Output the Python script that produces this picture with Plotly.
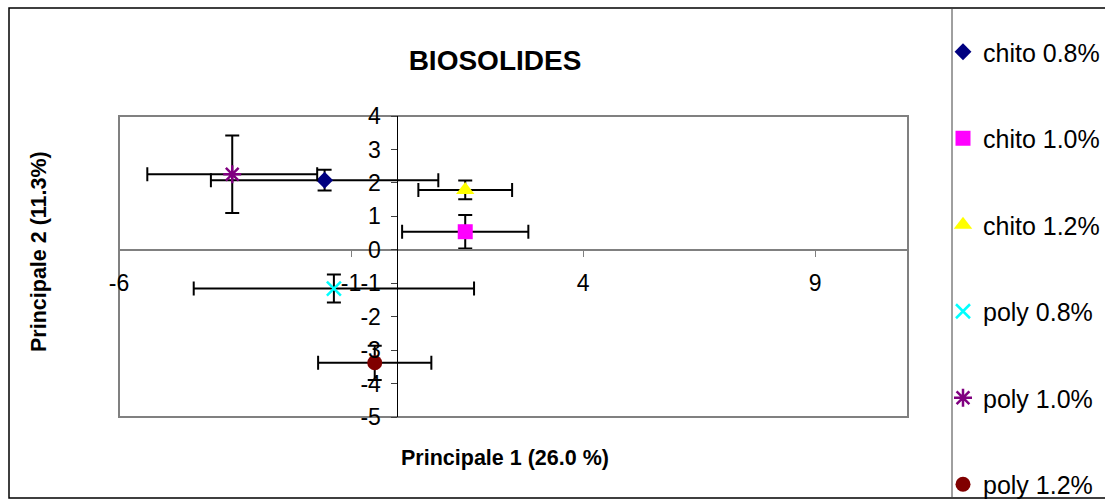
import plotly.graph_objects as go

# ---- data ----
series_names = ["chito 0.8%", "chito 1.0%", "chito 1.2%", "poly 0.8%", "poly 1.0%", "poly 1.2%"]
pc1_values = [-1.57, 1.46, 1.46, -1.37, -3.56, -0.49]
pc2_values = [2.08, 0.54, 1.79, -1.16, 2.26, -3.38]
pc1_errors = [2.45, 1.36, 1.01, 3.02, 1.83, 1.22]
pc2_errors = [0.31, 0.50, 0.28, 0.42, 1.16, 0.51]
x_tick_values = [-6, -1, 4, 9]
y_tick_values = [-5, -4, -3, -2, -1, 0, 1, 2, 3, 4]
x_range = [-6, 11]
y_range = [-5, 4]

# ---- styles ----
colors = ["#000080", "#FF00FF", "#FFFF00", "#00FFFF", "#800080", "#800000"]
symbols = ["diamond", "square", "triangle-up", "x-thin", "asterisk", "circle"]
sizes = [13, 15, 16, 14, 15, 15]
FONT = "Liberation Sans, Arial, sans-serif"

W, H = 1105, 503
L, R, T, B = 119, 197, 116, 86
pw, ph = W - L - R, H - T - B


def px_to_paper_x(px):
    return (px - L) / pw


def py_to_paper_y(py):
    return (H - B - py) / ph


fig = go.Figure()
for i, name in enumerate(series_names):
    line_only = symbols[i] in ("x-thin", "asterisk")
    fig.add_trace(go.Scatter(
        x=[pc1_values[i]], y=[pc2_values[i]], name=name, mode="markers",
        legendgroup=name,
        marker=dict(symbol=symbols[i], size=sizes[i], color=colors[i],
                    line=dict(color=colors[i], width=2.5 if line_only else 0)),
        error_x=dict(type="data", array=[pc1_errors[i]], color="black", thickness=2, width=7),
        error_y=dict(type="data", array=[pc2_errors[i]], color="black", thickness=2, width=7),
    ))

x_pos_of_zero = (0 - x_range[0]) / (x_range[1] - x_range[0])
y_pos_of_zero = (0 - y_range[0]) / (y_range[1] - y_range[0])

fig.update_layout(
    width=W, height=H,
    margin=dict(l=L, r=R, t=T, b=B, autoexpand=False),
    plot_bgcolor="white", paper_bgcolor="white",
    font=dict(family=FONT, color="black"),
    title=dict(text="<b>BIOSOLIDES</b>", font=dict(size=28, family=FONT, color="black"),
               x=px_to_paper_x(495), xref="paper", xanchor="center",
               y=1 - 60 / H, yref="container", yanchor="middle"),
    xaxis=dict(range=x_range, tickvals=x_tick_values,
               ticktext=[str(v) for v in x_tick_values],
               showgrid=False, zeroline=False,
               anchor="free", position=y_pos_of_zero,
               showline=True, linecolor="#808080", linewidth=2,
               ticks="outside", ticklen=6, tickcolor="#808080", tickwidth=1,
               ticklabelstandoff=7,
               tickfont=dict(size=23, family=FONT, color="black")),
    yaxis=dict(range=y_range, tickvals=y_tick_values,
               ticktext=[str(v) for v in y_tick_values],
               showgrid=False, zeroline=False,
               anchor="free", position=x_pos_of_zero,
               showline=True, linecolor="black", linewidth=1,
               ticks="outside", ticklen=6, tickcolor="#404040", tickwidth=1,
               ticklabelstandoff=6,
               tickfont=dict(size=23, family=FONT, color="black")),
    legend=dict(xref="container", yref="container",
                x=943 / W, xanchor="left", y=1 - 29 / H, yanchor="top",
                font=dict(size=25, family=FONT, color="black"),
                tracegroupgap=51, bgcolor="rgba(0,0,0,0)", maxheight=1.0),
    shapes=[
        # plot area border
        dict(type="rect", xref="paper", yref="paper", x0=0, x1=1, y0=0, y1=1,
             line=dict(color="#808080", width=2), layer="below"),
        # chart area border
        dict(type="rect", xref="paper", yref="paper",
             x0=px_to_paper_x(9), x1=px_to_paper_x(1110),
             y0=py_to_paper_y(498), y1=py_to_paper_y(8),
             line=dict(color="black", width=1.5)),
        # legend box left edge
        dict(type="line", xref="paper", yref="paper",
             x0=px_to_paper_x(952), x1=px_to_paper_x(952),
             y0=py_to_paper_y(498), y1=py_to_paper_y(8),
             line=dict(color="#404040", width=1)),
    ],
    annotations=[
        dict(text="<b>Principale 1 (26.0 %)</b>", xref="paper", yref="paper",
             x=px_to_paper_x(505), y=py_to_paper_y(458), xanchor="center", yanchor="middle",
             showarrow=False, font=dict(size=21.5, family=FONT, color="black")),
        dict(text="<b>Principale 2 (11.3%)</b>", xref="paper", yref="paper",
             x=px_to_paper_x(39), y=py_to_paper_y(252), xanchor="center", yanchor="middle",
             textangle=-90, showarrow=False, font=dict(size=21.5, family=FONT, color="black")),
    ],
)

fig.write_html("out.html",
               config={"displayModeBar": False},
               post_script="document.body.style.margin='0';document.body.style.overflow='hidden';")
